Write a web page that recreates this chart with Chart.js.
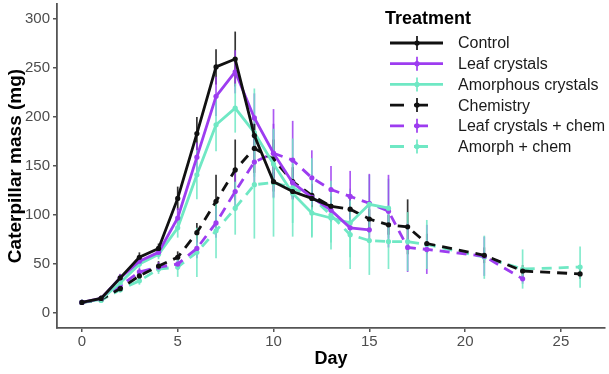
<!DOCTYPE html>
<html>
<head>
<meta charset="utf-8">
<script src="https://cdn.jsdelivr.net/npm/chart.js@4.4.1/dist/chart.umd.min.js"></script>
<style>
  html, body { margin: 0; padding: 0; background: #fff; }
</style>
</head>
<body>
<canvas id="massChart" width="609" height="374"></canvas>
<script>
const days = [0, 1, 2, 3, 4, 5, 6, 7, 8, 9, 10, 11, 12, 13, 14, 15, 16, 17, 18, 21, 23, 26];

const control       = [11, 15, 36, 57, 66, 117, 183, 251, 259, 181, 134, 124, 117, 109, null, null, null, null, null, null, null, null];
const controlErr    = [2, 3, 4, 5, 5, 12, 17, 18, 28, 12, 10, 8, 8, 8, null, null, null, null, null, null, null, null];
const leaf          = [11, 15, 36, 53, 62, 97, 159, 221, 246, 199, 163, 133, 118, 105, 87, 85, null, null, null, null, null, null];
const leafErr       = [2, 2, 4, 5, 5, 10, 15, 20, 22, 25, 30, 15, 12, 12, 10, 10, null, null, null, null, null, null];
const amorph        = [11, 14, 31, 50, 60, 87, 141, 192, 209, 184, 152, 122, 102, 97, 92, 111, 107, null, null, null, null, null];
const amorphErr     = [2, 2, 3, 4, 5, 10, 25, 27, 25, 45, 35, 30, 25, 25, 35, 30, 30, null, null, null, null, null];
const chem          = [11, 14, 25, 38, 48, 57, 82, 114, 146, 168, 157, 134, 120, 109, 106, 96, 90, 88, 71, 59, 43, 40];
const chemErr       = [2, 2, 3, 5, 5, 6, 10, 27, 31, 25, 20, 15, 12, 10, 10, 10, 10, 28, 10, 8, 6, 5];
const leafChem      = [11, 14, 28, 42, 47, 50, 66, 92, 124, 154, 163, 156, 138, 126, 119, 112, 104, 67, 65, 58, 35, null];
const leafChemErr   = [2, 2, 3, 4, 5, 6, 10, 15, 20, 25, 45, 40, 28, 24, 26, 30, 37, 25, 25, 20, 5, null];
const amorphChem    = [11, 13, 24, 33, 45, 47, 62, 84, 107, 131, 133, 128, 118, 100, 80, 74, 73, 73, 70, 57, 45, 47];
const amorphChemErr = [2, 2, 3, 4, 5, 10, 25, 28, 27, 55, 55, 50, 40, 35, 35, 35, 28, 30, 25, 22, 20, 21];

const xTicks = [0, 5, 10, 15, 20, 25];
const yTicks = [0, 50, 100, 150, 200, 250, 300];

const BLACK = '#111111';
const PURPLE = '#9d3cf0';
const TEAL = '#6fe8c4';
const FONT = '"Liberation Sans", Arial, Helvetica, sans-serif';

function points(vals, errs) {
  return days.map((d, i) => ({ x: d, y: vals[i], e: errs[i] })).filter(p => p.y !== null);
}

function series(label, vals, errs, color, dashed) {
  return {
    label: label,
    data: points(vals, errs),
    borderColor: color,
    backgroundColor: color,
    borderWidth: 2.8,
    borderDash: dashed ? [10, 7] : [],
    pointRadius: 2.6,
    pointBorderWidth: 0,
    pointBackgroundColor: color,
    tension: 0,
    fill: false
  };
}

// vertical error bars, under every line
const errorBars = {
  id: 'errorBars',
  beforeDatasetsDraw(chart) {
    const { ctx, chartArea, scales } = chart;
    ctx.save();
    ctx.beginPath();
    ctx.rect(chartArea.left, chartArea.top, chartArea.width, chartArea.height);
    ctx.clip();
    chart.data.datasets.forEach((ds, i) => {
      const meta = chart.getDatasetMeta(i);
      ctx.strokeStyle = ds.borderColor;
      ctx.globalAlpha = 0.85;
      ctx.lineWidth = 1.7;
      ctx.setLineDash([]);
      meta.data.forEach((el, j) => {
        const raw = ds.data[j];
        ctx.beginPath();
        ctx.moveTo(el.x, scales.y.getPixelForValue(raw.y - raw.e));
        ctx.lineTo(el.x, scales.y.getPixelForValue(raw.y + raw.e));
        ctx.stroke();
      });
    });
    ctx.restore();
  }
};

const legendBox = {
  id: 'legendBox',
  afterDraw(chart) {
    const ctx = chart.ctx;
    ctx.save();
    ctx.textBaseline = 'middle';
    ctx.fillStyle = '#000';
    ctx.font = 'bold 18px ' + FONT;
    ctx.fillText('Treatment', 385, 19);
    chart.data.datasets.forEach((ds, i) => {
      const yy = 43 + i * 20.7;
      const dashed = ds.borderDash.length > 0;
      ctx.strokeStyle = ds.borderColor;
      ctx.lineWidth = 2.8;
      ctx.setLineDash(dashed ? [14, 10] : []);
      ctx.beginPath();
      ctx.moveTo(390, yy);
      ctx.lineTo(dashed ? 430 : 443, yy);
      ctx.stroke();
      ctx.setLineDash([]);
      ctx.lineWidth = 1.7;
      ctx.beginPath();
      ctx.moveTo(417, yy - 7);
      ctx.lineTo(417, yy + 7);
      ctx.stroke();
      ctx.fillStyle = ds.borderColor;
      ctx.beginPath();
      ctx.arc(417, yy, 2.6, 0, Math.PI * 2);
      ctx.fill();
      ctx.fillStyle = '#1a1a1a';
      ctx.font = '16px ' + FONT;
      ctx.fillText(ds.label, 458, yy + 1);
    });
    ctx.restore();
  }
};

new Chart(document.getElementById('massChart'), {
  type: 'line',
  data: {
    datasets: [
      series('Control', control, controlErr, BLACK, false),
      series('Leaf crystals', leaf, leafErr, PURPLE, false),
      series('Amorphous crystals', amorph, amorphErr, TEAL, false),
      series('Chemistry', chem, chemErr, BLACK, true),
      series('Leaf crystals + chem', leafChem, leafChemErr, PURPLE, true),
      series('Amorph + chem', amorphChem, amorphChemErr, TEAL, true)
    ]
  },
  options: {
    responsive: false,
    animation: false,
    devicePixelRatio: 1,
    layout: { padding: { left: 0, right: 2, top: 0, bottom: 0 } },
    plugins: {
      legend: { display: false },
      tooltip: { enabled: false }
    },
    scales: {
      x: {
        type: 'linear',
        min: -1.3,
        max: 27.3,
        afterBuildTicks: s => { s.ticks = xTicks.map(v => ({ value: v })); },
        afterFit: s => { s.height = 46; s.paddingLeft = 0; s.paddingRight = 0; },
        grid: { drawOnChartArea: false, drawTicks: true, tickLength: 4, color: '#555', lineWidth: 1.5 },
        border: { display: true, color: '#555', width: 1.8 },
        ticks: { color: '#4d4d4d', font: { family: FONT, size: 15 }, padding: 1, maxRotation: 0 },
        title: { display: true, text: 'Day', color: '#000', font: { family: FONT, size: 18, weight: 'bold' }, padding: { top: 0, bottom: 4 } }
      },
      y: {
        type: 'linear',
        min: -15.1,
        max: 315.1,
        afterBuildTicks: s => { s.ticks = yTicks.map(v => ({ value: v })); },
        afterFit: s => { s.width = 57; s.paddingTop = 0; s.paddingBottom = 0; },
        grid: { drawOnChartArea: false, drawTicks: true, tickLength: 4, color: '#555', lineWidth: 1.5 },
        border: { display: true, color: '#555', width: 1.8 },
        ticks: { color: '#4d4d4d', font: { family: FONT, size: 15 }, padding: 3 },
        title: { display: true, text: 'Caterpillar mass (mg)', color: '#000', font: { family: FONT, size: 19, weight: 'bold' }, padding: { top: 4, bottom: 0 } }
      }
    }
  },
  plugins: [errorBars, legendBox]
});
</script>
</body>
</html>
